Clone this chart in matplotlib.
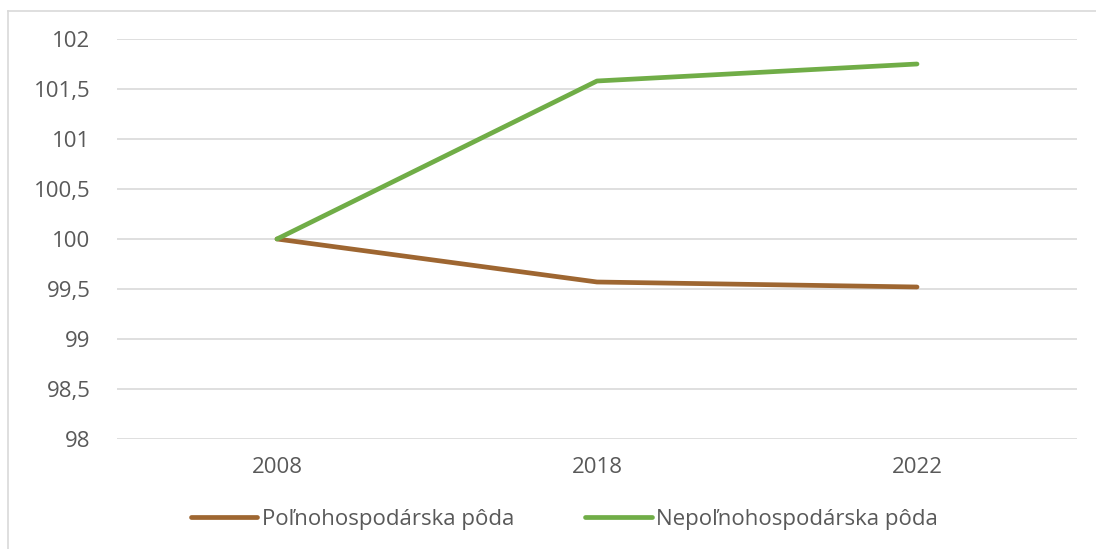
import matplotlib.pyplot as plt
from matplotlib.lines import Line2D
from matplotlib.ticker import FuncFormatter

years = ['2008', '2018', '2022']
polnohosp = [100, 99.57, 99.52]
nepolnohosp = [100, 101.58, 101.75]
series_names = ['Poľnohospodárska pôda', 'Nepoľnohospodárska pôda']

plt.rcParams['font.family'] = ['Open Sans', 'DejaVu Sans']

fig = plt.figure(figsize=(10.96, 5.49), dpi=100)
ax = fig.add_axes([117 / 1096, 1 - 439 / 549, 960 / 1096, 400 / 549])

x = range(len(years))
ax.plot(x, polnohosp, color='#9E6631', lw=3.4, solid_capstyle='round', label=series_names[0])
ax.plot(x, nepolnohosp, color='#70AD47', lw=3.4, solid_capstyle='round', label=series_names[1])

ax.set_xlim(-0.5, 2.5)
ax.set_ylim(98, 102)
ax.set_xticks(list(x))
ax.set_xticklabels(years)
ax.set_yticks([98 + 0.5 * i for i in range(9)])
ax.yaxis.set_major_formatter(FuncFormatter(lambda v, p: ('%g' % v).replace('.', ',')))

ax.grid(axis='y', color='#d9d9d9', lw=1.2)
ax.set_axisbelow(True)
for s in ax.spines.values():
    s.set_visible(False)
ax.tick_params(length=0, labelsize=16, colors='#595959')
ax.tick_params(axis='y', pad=19)
ax.tick_params(axis='x', pad=13)

ax.legend(loc='center', bbox_to_anchor=(0.466, -0.2), ncol=2, frameon=False,
          fontsize=16, labelcolor='#595959', handlelength=3.0, handletextpad=0.2,
          columnspacing=3.2)

# chart frame (top and left edges)
fig.add_artist(Line2D([8 / 1096, 1.0], [1 - 11 / 549] * 2, color='#d9d9d9', lw=1.2))
fig.add_artist(Line2D([8 / 1096] * 2, [0, 1 - 11 / 549], color='#d9d9d9', lw=1.2))

fig.savefig('out.png', dpi=100)
